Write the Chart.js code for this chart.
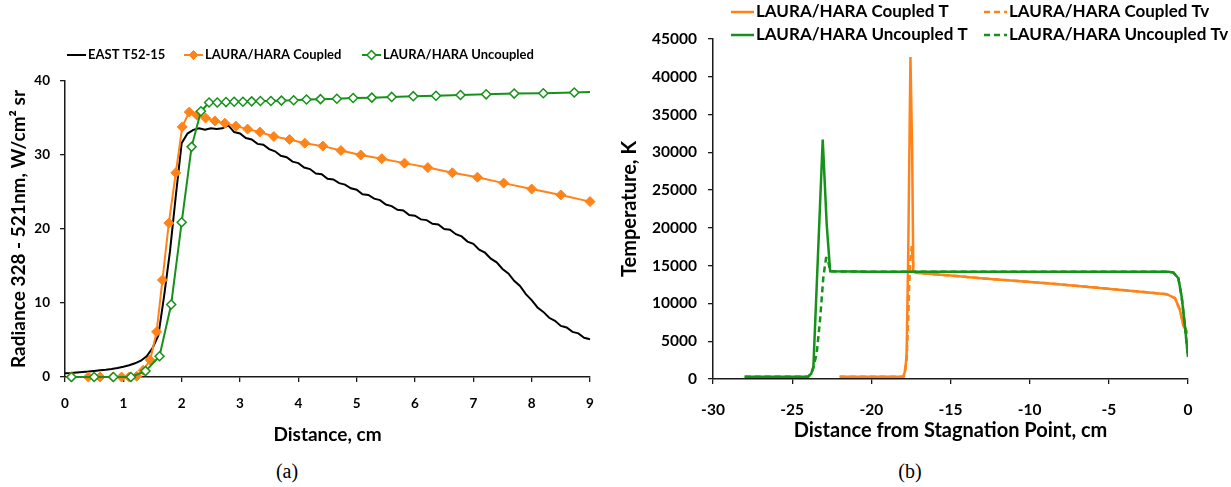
<!DOCTYPE html>
<html>
<head>
<meta charset="utf-8">
<script src="https://cdn.jsdelivr.net/npm/chart.js@4/dist/chart.umd.min.js"></script>
<style>
  html, body { margin: 0; padding: 0; background: #fff; }
  body { width: 1231px; height: 487px; position: relative; overflow: hidden; }
  canvas { position: absolute; top: 0; }
  #radiance { left: 0; }
  #temperature { left: 615px; }
  .caption { position: absolute; top: 460px; width: 60px; text-align: center; font: 20px 'Liberation Serif', serif; color: #000; }
</style>
</head>
<body>
<canvas id="radiance" width="615" height="450"></canvas>
<canvas id="temperature" width="616" height="450"></canvas>
<div class="caption" style="left:257px">(a)</div>
<div class="caption" style="left:880px">(b)</div>
<script>
// ---- (a) radiance 328-521 nm along the viewing path ----
const eastDist = [
  0.0, 0.1, 0.2, 0.3, 0.4, 0.5, 0.6, 0.7, 0.8, 0.9,
  1.0, 1.1, 1.2, 1.3, 1.4, 1.5, 1.6, 1.7, 1.8, 1.9,
  2.0, 2.1, 2.2, 2.3, 2.4, 2.5, 2.6, 2.7, 2.8, 2.9,
  3.0, 3.1, 3.2, 3.3, 3.4, 3.5, 3.6, 3.7, 3.8, 3.9,
  4.0, 4.1, 4.2, 4.3, 4.4, 4.5, 4.6, 4.7, 4.8, 4.9,
  5.0, 5.1, 5.2, 5.3, 5.4, 5.5, 5.6, 5.7, 5.8, 5.9,
  6.0, 6.1, 6.2, 6.3, 6.4, 6.5, 6.6, 6.7, 6.8, 6.9,
  7.0, 7.1, 7.2, 7.3, 7.4, 7.5, 7.6, 7.7, 7.8, 7.9,
  8.0, 8.1, 8.2, 8.3, 8.4, 8.5, 8.6, 8.7, 8.8, 8.9, 9.0
];
const eastRad = [
  0.50, 0.55, 0.62, 0.68, 0.74, 0.82, 0.90, 0.98, 1.08, 1.22,
  1.38, 1.58, 1.85, 2.2, 2.8, 3.9, 5.6, 11.0, 17.0, 24.5,
  31.6, 32.9, 33.4, 33.6, 33.4, 33.6, 33.5, 33.6, 34.0, 33.1,
  32.9, 32.3, 32.1, 31.5, 31.4, 30.8, 30.5, 29.9, 29.7, 29.1,
  28.9, 28.3, 28.1, 27.5, 27.4, 26.8, 26.7, 26.2, 26.0, 25.5,
  25.3, 24.7, 24.6, 24.1, 23.9, 23.3, 23.1, 22.6, 22.5, 21.9,
  21.8, 21.3, 21.2, 20.7, 20.6, 20.0, 19.9, 19.3, 19.0, 18.3,
  18.0, 17.2, 16.8, 16.0, 15.5, 14.6, 14.0, 13.0, 12.3, 11.2,
  10.4, 9.4, 8.8, 8.0, 7.6, 6.9, 6.7, 6.1, 5.9, 5.3, 5.1
];
const coupledDist = [
  0.11, 0.40, 0.60, 0.82, 0.97, 1.10, 1.23, 1.34, 1.46, 1.57,
  1.67, 1.78, 1.90, 2.01, 2.13, 2.26, 2.41, 2.57, 2.74, 2.93,
  3.13, 3.34, 3.58, 3.85, 4.11, 4.42, 4.73, 5.07, 5.43, 5.82,
  6.22, 6.64, 7.07, 7.52, 8.00, 8.50, 9.00
];
const coupledRad = [
  0, 0, 0, 0, 0, 0, 0.1, 0.9, 2.3, 6.1,
  13.1, 20.8, 27.6, 33.8, 35.8, 35.4, 35.0, 34.6, 34.3, 33.9,
  33.5, 33.1, 32.5, 32.1, 31.6, 31.2, 30.6, 30.0, 29.5, 28.9,
  28.3, 27.6, 27.0, 26.2, 25.4, 24.6, 23.7
];
const uncoupledDist = [
  0.11, 0.50, 0.83, 1.13, 1.38, 1.62, 1.82, 2.00, 2.17, 2.33,
  2.47, 2.61, 2.76, 2.90, 3.05, 3.20, 3.35, 3.53, 3.71, 3.92,
  4.14, 4.38, 4.66, 4.94, 5.26, 5.60, 5.97, 6.36, 6.78, 7.22,
  7.70, 8.20, 8.73, 9.00
];
const uncoupledRad = [
  0, 0, 0, 0, 0.8, 2.8, 9.8, 20.9, 31.1, 35.9,
  37.1, 37.1, 37.15, 37.2, 37.2, 37.25, 37.3, 37.3, 37.35, 37.4,
  37.5, 37.55, 37.6, 37.7, 37.75, 37.85, 37.95, 38.0, 38.1, 38.2,
  38.3, 38.35, 38.45, 38.5
];
const distTicks = [0, 1, 2, 3, 4, 5, 6, 7, 8, 9];
const radTicks = [0, 10, 20, 30, 40];

// ---- (b) temperature along the stagnation line ----
const cplDist = [-22.0, -20.0, -18.2, -17.98, -17.85, -17.77, -17.67, -17.53, -17.42, -17.35,
  -17.2, -15.0, -13.1, -11.0, -8.9, -6.8, -4.7, -3.0, -1.35, -0.82, -0.51, -0.3, -0.13, 0.0];
const cplT = [300, 300, 300, 330, 1200, 3400, 16600, 42600, 30000, 14300,
  14050, 13700, 13340, 13010, 12670, 12290, 11880, 11560, 11220, 10690, 9140, 7150, 6490, 6050];
const cplTvDist = [-22.0, -20.0, -18.2, -17.95, -17.77, -17.67, -17.61, -17.53, -17.45, -17.35,
  -17.28, -17.2, -15.0, -13.1, -11.0, -8.9, -6.8, -4.7, -3.0, -1.35, -0.82, -0.51, -0.3, -0.13, 0.0];
const cplTv = [300, 300, 300, 330, 2500, 7800, 12200, 15800, 17600, 14900,
  14200, 14050, 13700, 13340, 13010, 12670, 12290, 11880, 11560, 11220, 10690, 9140, 7150, 6490, 6050];
const uncDist = [-28.0, -26.0, -24.2, -23.98, -23.8, -23.66, -23.07, -22.82, -22.6, -20.0,
  -15.0, -10.0, -5.0, -2.0, -1.23, -0.92, -0.61, -0.4, -0.19, 0.0];
const uncT = [300, 300, 300, 330, 700, 1600, 31700, 20500, 14250, 14200,
  14200, 14200, 14200, 14200, 14200, 14080, 13340, 10900, 6930, 2900];
const uncTvDist = [-28.0, -26.0, -24.2, -23.98, -23.8, -23.66, -23.45, -23.24, -23.03, -22.86,
  -22.76, -22.6, -20.0, -15.0, -10.0, -5.0, -2.0, -1.23, -0.92, -0.61, -0.4, -0.19, 0.0];
const uncTv = [300, 300, 300, 330, 700, 1500, 3400, 7800, 13500, 16000,
  16000, 14250, 14200, 14200, 14200, 14200, 14200, 14200, 14080, 13340, 10900, 6930, 2900];
const stagTicks = [-30, -25, -20, -15, -10, -5, 0];
const tempTicks = [0, 5000, 10000, 15000, 20000, 25000, 30000, 35000, 40000, 45000];

const face = 'Lato, sans-serif';
const ink = '#000';
const axisInk = '#1a1a1a';
const orange = '#ff8318';
const green = '#16911a';

const pairs = (xs, ys) => xs.map((x, i) => ({ x, y: ys[i] }));

// legend drawn as line sample + marker, laid out on fixed slots
const keyPlugin = {
  id: 'key',
  afterDraw(chart, args, opts) {
    const { ctx } = chart;
    ctx.save();
    ctx.font = `bold ${opts.size}px ${face}`;
    ctx.textBaseline = 'middle';
    chart.data.datasets.forEach((ds, i) => {
      const [x, y] = opts.slots[i];
      ctx.strokeStyle = ds.borderColor;
      ctx.lineWidth = ds.borderWidth;
      ctx.setLineDash(ds.borderDash || []);
      ctx.beginPath();
      ctx.moveTo(x, y);
      ctx.lineTo(x + opts.sample, y);
      ctx.stroke();
      ctx.setLineDash([]);
      if (ds.pointStyle && opts.marker) {
        ctx.fillStyle = ds.pointBackgroundColor;
        ctx.strokeStyle = ds.pointBorderColor;
        ctx.lineWidth = ds.pointBorderWidth;
        Chart.helpers.drawPoint(ctx, { pointStyle: ds.pointStyle, radius: opts.marker, borderWidth: ds.pointBorderWidth },
          x + opts.sample / 2, y);
      }
      ctx.fillStyle = ink;
      ctx.fillText(ds.label, x + opts.sample + opts.gap, y);
    });
    ctx.restore();
  }
};

function axis(ticks, min, max, opts) {
  return {
    type: 'linear', min, max,
    afterBuildTicks: a => { a.ticks = ticks.map(value => ({ value })); },
    afterFit: a => { if (opts.width) a.width = opts.width; if (opts.height) a.height = opts.height; },
    grid: { drawOnChartArea: false, drawTicks: true, tickLength: 5, color: axisInk, lineWidth: 1.3 },
    border: { color: axisInk, width: 1.5 },
    ticks: {
      color: ink, padding: opts.pad, maxRotation: 0, autoSkip: false,
      font: { family: face, size: opts.tickSize, weight: 'bold' },
      callback: v => String(v)
    },
    title: {
      display: true, text: opts.title, color: ink,
      font: { family: face, size: opts.titleSize, weight: 'bold' },
      padding: opts.titlePad
    }
  };
}

new Chart(document.getElementById('radiance'), {
  type: 'scatter',
  data: {
    datasets: [
      {
        label: 'EAST T52-15', data: pairs(eastDist, eastRad), showLine: true,
        borderColor: '#000', borderWidth: 2, pointRadius: 0, order: 3, clip: false
      },
      {
        label: 'LAURA/HARA Coupled', data: pairs(coupledDist, coupledRad), showLine: true,
        borderColor: orange, borderWidth: 2, pointStyle: 'rectRot', pointRadius: 5,
        pointBackgroundColor: orange, pointBorderColor: orange, pointBorderWidth: 1, order: 2, clip: false
      },
      {
        label: 'LAURA/HARA Uncoupled', data: pairs(uncoupledDist, uncoupledRad), showLine: true,
        borderColor: green, borderWidth: 2, pointStyle: 'rectRot',
        pointRadius: c => (c.dataIndex === uncoupledDist.length - 1 ? 0 : 4.5),
        pointBackgroundColor: '#fff', pointBorderColor: green, pointBorderWidth: 1.5, order: 1, clip: false
      }
    ]
  },
  options: {
    responsive: false, animation: false, events: [],
    layout: { padding: { top: 81, right: 25, bottom: 0, left: 0 } },
    scales: {
      x: axis(distTicks, 0, 9, { height: 73, pad: 14, tickSize: 13.5, title: 'Distance, cm', titleSize: 19, titlePad: { top: 0, bottom: 4 } }),
      y: axis(radTicks, 0, 40, { width: 65, pad: 10, tickSize: 13.5, title: 'Radiance 328 - 521nm, W/cm² sr', titleSize: 19, titlePad: { top: 7, bottom: 0 } })
    },
    plugins: {
      legend: { display: false }, tooltip: { enabled: false },
      key: { size: 13, sample: 19, gap: 2, marker: 4.5, slots: [[67, 55], [184, 55], [362, 55]] }
    }
  },
  plugins: [keyPlugin]
});

new Chart(document.getElementById('temperature'), {
  type: 'scatter',
  data: {
    datasets: [
      {
        label: 'LAURA/HARA Coupled T', data: pairs(cplDist, cplT), showLine: true,
        borderColor: orange, borderWidth: 2.5, pointRadius: 0, order: 4
      },
      {
        label: 'LAURA/HARA Coupled Tv', data: pairs(cplTvDist, cplTv), showLine: true,
        borderColor: orange, borderWidth: 2.5, borderDash: [6, 4], pointRadius: 0, order: 3
      },
      {
        label: 'LAURA/HARA Uncoupled T', data: pairs(uncDist, uncT), showLine: true,
        borderColor: green, borderWidth: 2.5, pointRadius: 0, order: 2
      },
      {
        label: 'LAURA/HARA Uncoupled Tv', data: pairs(uncTvDist, uncTv), showLine: true,
        borderColor: green, borderWidth: 2.5, borderDash: [6, 4], pointRadius: 0, order: 1
      }
    ]
  },
  options: {
    responsive: false, animation: false, events: [],
    layout: { padding: { top: 39, right: 43, bottom: 0, left: 0 } },
    scales: {
      x: axis(stagTicks, -30, 0, { height: 71, pad: 17, tickSize: 15.5, title: 'Distance from Stagnation Point, cm', titleSize: 20, titlePad: { top: 0, bottom: 7 } }),
      y: axis(tempTicks, 0, 45000, { width: 98, pad: 11, tickSize: 15.5, title: 'Temperature, K', titleSize: 20, titlePad: { top: 3, bottom: 0 } })
    },
    plugins: {
      legend: { display: false }, tooltip: { enabled: false },
      key: { size: 17, sample: 23, gap: 2, marker: 0, slots: [[116, 12], [369, 12], [116, 35], [369, 35]] }
    }
  },
  plugins: [keyPlugin]
});
</script>
</body>
</html>
